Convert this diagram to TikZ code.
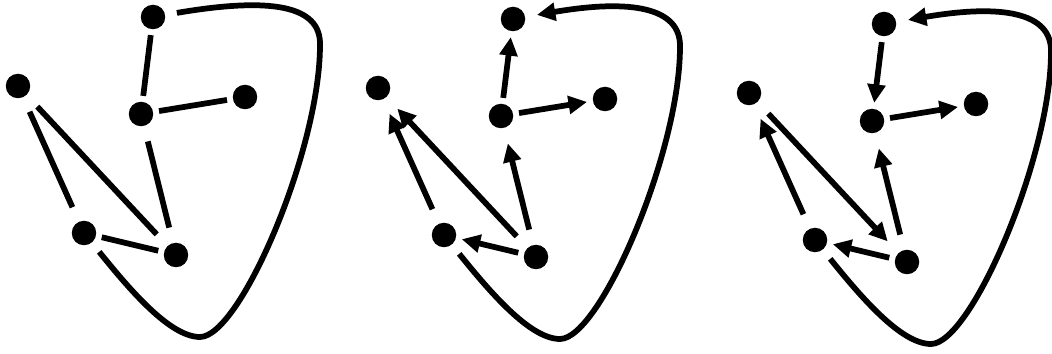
\documentclass[tikz,border=0pt]{standalone}
\usetikzlibrary{arrows.meta}
\tikzset{
  dot/.style={circle,fill=black,inner sep=0pt,minimum size=0.49cm,outer sep=0.12cm},
  link/.style={line width=0.115cm,line cap=butt},
  dir/.style={link,-{Triangle[length=0.37cm,width=0.35cm]}},
  far/.style={shorten <=0.2cm,shorten >=0.2cm},
  hull/.style={shorten <=0.12cm,shorten >=0.12cm}
}
\begin{document}
\begin{tikzpicture}[x=0.02cm,y=-0.02cm,line join=round]
  \useasboundingbox (0,0) rectangle (1052,354);
  % the same six dots and the outer curve in every copy
  \foreach \g/\dx/\dy/\tip in {1/0/0/link,2/360/2/dir,3/731/7/dir}{
    \begin{scope}[shift={(\dx,\dy)}]
      \node[dot] (t\g) at (153,17) {};
      \node[dot] (l\g) at (18,86) {};
      \node[dot] (m\g) at (141,114) {};
      \node[dot] (r\g) at (245,97) {};
      \node[dot] (a\g) at (84,233) {};
      \node[dot] (b\g) at (176,255) {};
      \draw[hull,\tip] (a\g) .. controls (130,290) and (170,337) .. (200,337)
        .. controls (240,337) and (320,150) .. (320,45)
        .. controls (321,5) and (270,-3) .. (t\g);
    \end{scope}
  }
  % left: undirected
  \draw[link] (t1) -- (m1);
  \draw[link] (m1) -- (r1);
  \draw[link,far] (m1) -- (b1);
  \draw[link,far] (l1) -- (a1);
  \draw[link,far] (l1) -- (b1);
  \draw[link] (a1) -- (b1);
  % middle
  \draw[dir] (m2) -- (t2);
  \draw[dir] (m2) -- (r2);
  \draw[dir,far] (b2) -- (m2);
  \draw[dir,far] (a2) -- (l2);
  \draw[dir,far] (b2) -- (l2);
  \draw[dir] (b2) -- (a2);
  % right
  \draw[dir] (t3) -- (m3);
  \draw[dir] (m3) -- (r3);
  \draw[dir,far] (b3) -- (m3);
  \draw[dir,far] (a3) -- (l3);
  \draw[dir,far] (l3) -- (b3);
  \draw[dir] (b3) -- (a3);
\end{tikzpicture}
\end{document}
